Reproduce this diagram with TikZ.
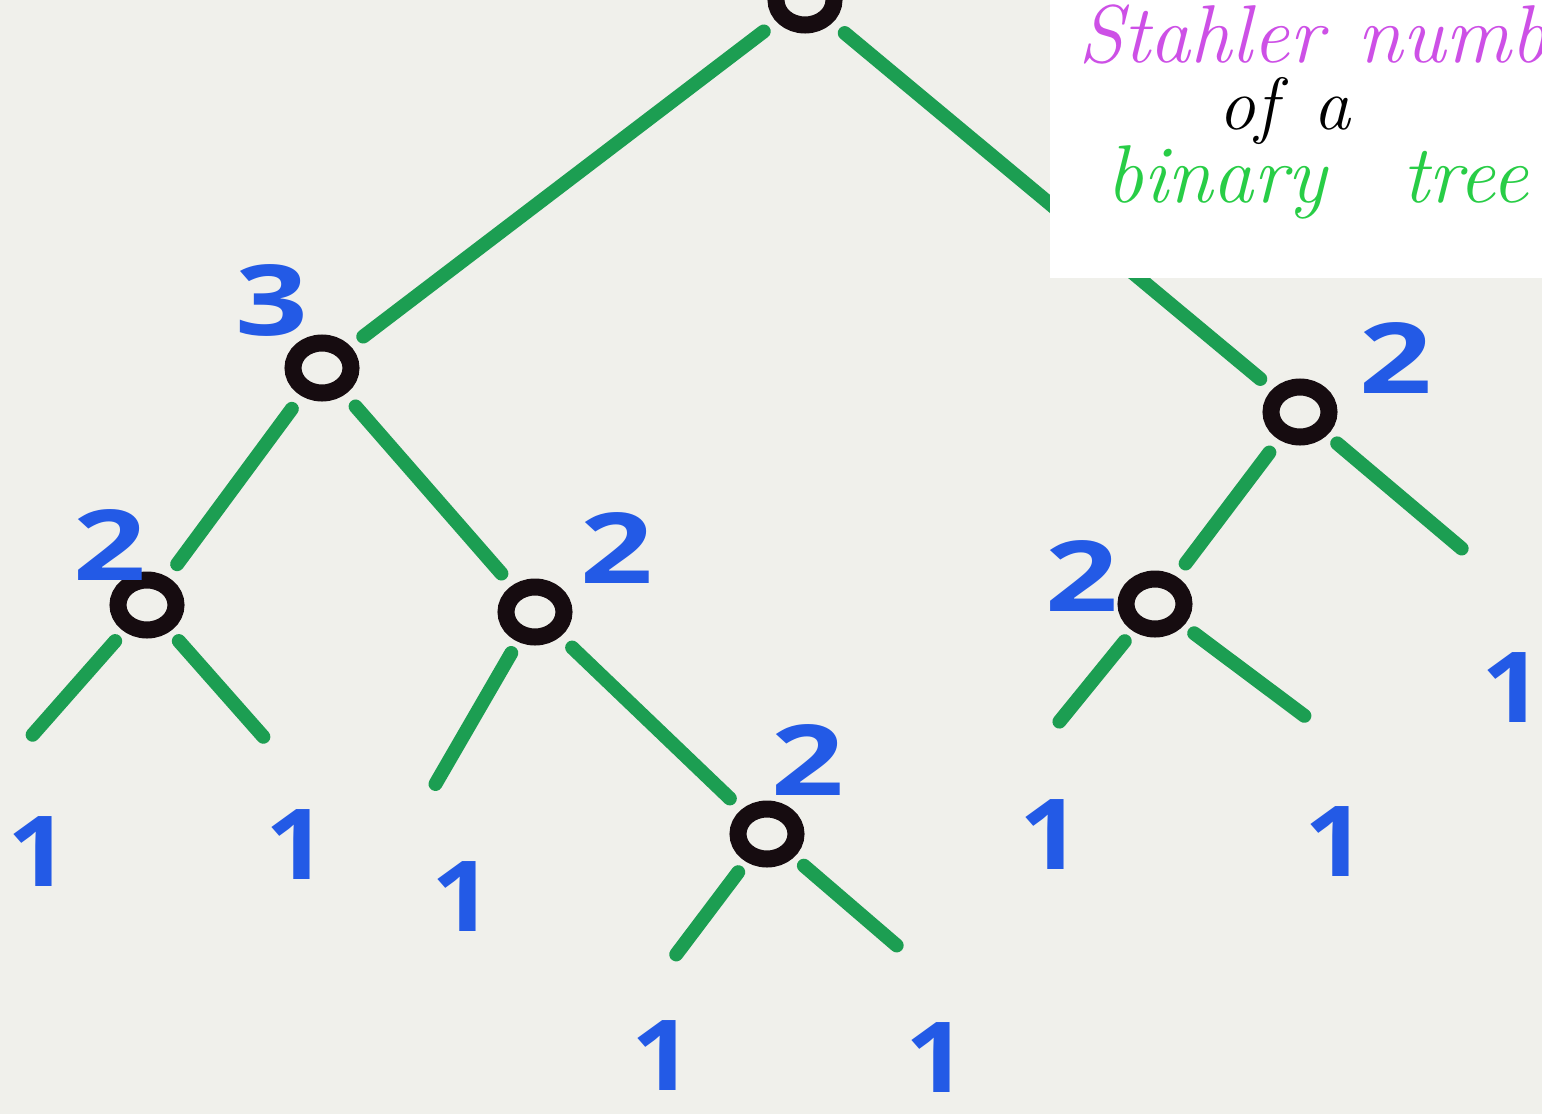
\documentclass[tikz,border=0pt]{standalone}
\usepackage{fontspec}
\usepackage{graphicx}
\usetikzlibrary{shapes.geometric}
\newfontfamily\digitfont{Open Sans}
\definecolor{paper}{RGB}{240,240,235}
\definecolor{edgegreen}{RGB}{28,158,82}
\definecolor{numblue}{RGB}{35,90,230}
\definecolor{titlemag}{RGB}{205,80,230}
\definecolor{titlegreen}{RGB}{40,205,70}
\definecolor{ringblack}{RGB}{22,12,16}
\tikzset{
  ring/.style={ellipse, draw=ringblack, line width=17pt, minimum width=58pt, minimum height=50pt, inner sep=0pt},
  edge/.style={draw=edgegreen, line width=14pt, line cap=round, shorten <=16pt, shorten >=16pt},
  leafedge/.style={draw=edgegreen, line width=14pt, line cap=round, shorten <=13pt, shorten >=7pt},
  num/.style={text=numblue, font=\digitfont\bfseries\fontsize{98}{110}\selectfont, inner sep=0pt},
  titletext/.style={font=\itshape\fontsize{82}{90}\selectfont, inner sep=0pt, anchor=base west},
}
\newcommand{\widedigit}[1]{\scalebox{1.3}[1]{#1}}
\newcommand{\onedigit}[1]{\scalebox{1.1}[1]{#1}}
\begin{document}
\begin{tikzpicture}[x=1pt,y=-1pt]
\useasboundingbox (0,0) rectangle (1542,1114);
\clip (0,0) rectangle (1542,1114);
\fill[paper] (0,0) rectangle (1542,1114);

% tree nodes
\node[ring] (root) at (805,0) {};
\node[ring] (r3) at (322,368) {};
\node[ring] (rr2) at (1300,412) {};
\node[ring] (l2) at (147,605) {};
\node[ring] (m2) at (535,612) {};
\node[ring] (low2) at (767,834) {};
\node[ring] (rl2) at (1155,604) {};

% leaf ends
\coordinate (la) at (28,740);
\coordinate (lb) at (268,742);
\coordinate (lc) at (432,790);
\coordinate (ld) at (672,960);
\coordinate (le) at (902,950);
\coordinate (lf) at (1467,553);
\coordinate (lg) at (1055,727);
\coordinate (lh) at (1310,720);

% edges
\draw[edge] (root) -- (r3);
\draw[edge] (root) -- (rr2);
\draw[edge] (r3) -- (l2);
\draw[edge] (r3) -- (m2);
\draw[edge] (m2) -- (low2);
\draw[edge] (rr2) -- (rl2);
\draw[leafedge] (l2) -- (la);
\draw[leafedge] (l2) -- (lb);
\draw[leafedge] (m2) -- (lc);
\draw[leafedge] (low2) -- (ld);
\draw[leafedge] (low2) -- (le);
\draw[leafedge] (rr2) -- (lf);
\draw[leafedge] (rl2) -- (lg);
\draw[leafedge] (rl2) -- (lh);

% numbers
\node[num] (n3) at (272,300) {\widedigit{3}};
\node[num] (nrr) at (1396,358) {\widedigit{2}};
\node[num] (nrl) at (1082,576) {\widedigit{2}};
\node[num] (nl) at (110,545) {\widedigit{2}};
\node[num] (nm) at (617,548) {\widedigit{2}};
\node[num] (nlow) at (808,760) {\widedigit{2}};
\node[num] (o1) at (38,852) {\onedigit{1}};
\node[num] (o2) at (296,845) {\onedigit{1}};
\node[num] (o3) at (462,897) {\onedigit{1}};
\node[num] (o4) at (662,1056) {\onedigit{1}};
\node[num] (o5) at (936,1058) {\onedigit{1}};
\node[num] (o6) at (1050,835) {\onedigit{1}};
\node[num] (o7) at (1335,842) {\onedigit{1}};
\node[num] (o8) at (1512,688) {\onedigit{1}};

% title box
\fill[white] (1050,0) rectangle (1542,278);
\node[titletext, text=titlemag] (t1) at (1078,62) {Stahler\hspace{34pt}numb};
\node[titletext, text=black, font=\itshape\fontsize{74}{80}\selectfont] (t2) at (1218,129) {of\hspace{36pt}a};
\node[titletext, text=titlegreen] (t3) at (1106,202) {binary};
\node[titletext, text=titlegreen] (t4) at (1402,202) {tree};
\end{tikzpicture}
\end{document}
